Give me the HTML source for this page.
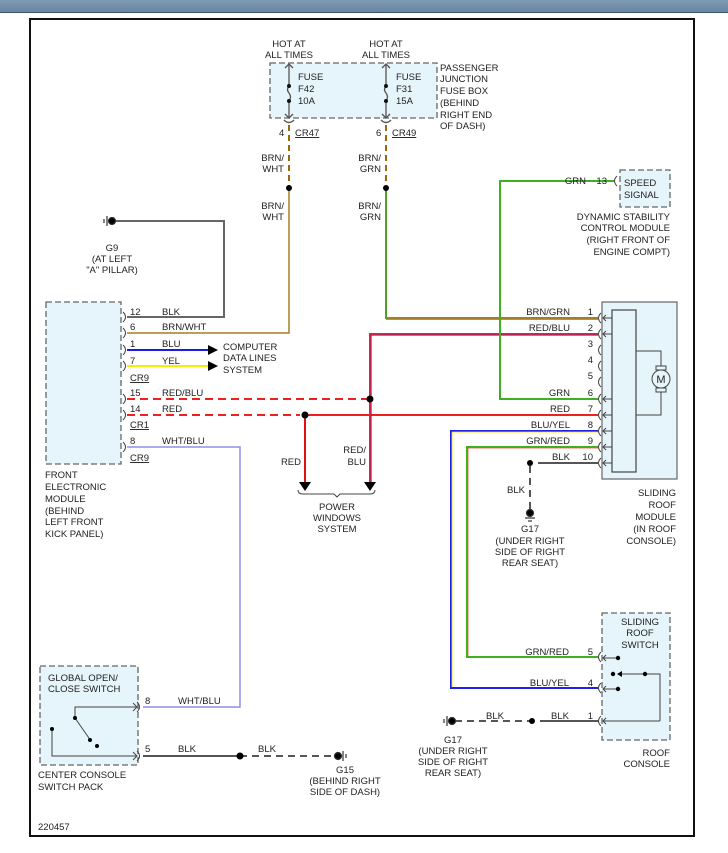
<!DOCTYPE html>
<html><head><meta charset="utf-8"><style>
html,body{margin:0;padding:0;background:#fff;}
svg{display:block;font-family:"Liberation Sans",sans-serif;font-size:9.5px;fill:#222;}
</style></head><body>
<svg width="728" height="853" viewBox="0 0 728 853" xmlns="http://www.w3.org/2000/svg">
<defs><linearGradient id="bar" x1="0" y1="0" x2="0" y2="1"><stop offset="0" stop-color="#7f9bb5"/><stop offset="1" stop-color="#6786a2"/></linearGradient></defs>
<rect x="0" y="0" width="728" height="12" fill="url(#bar)"/>
<line x1="0" y1="12.5" x2="728" y2="12.5" stroke="#3b5470" stroke-width="1"/>
<rect x="30" y="19" width="664" height="817" fill="#fff" stroke="#111" stroke-width="2"/>

<g fill="#e6f4fc" stroke="#666" stroke-width="1.3" stroke-dasharray="6,3">
<rect x="270" y="63" width="167" height="55"/>
<rect x="46" y="302" width="75" height="162"/>
<rect x="620" y="170" width="50" height="37"/>
<rect x="602" y="613" width="68" height="127"/>
<rect x="40" y="666" width="98" height="99"/>
</g>
<rect x="602" y="302" width="75" height="177" fill="#e6f4fc" stroke="#666" stroke-width="1.2"/>
<rect x="612" y="310" width="24" height="162" fill="#e6f4fc" stroke="#444" stroke-width="1.2"/>

<g stroke="#555" stroke-width="1.3" fill="none">
<line x1="289" y1="64" x2="289" y2="86"/><path d="M289,86 q-3,4 0,7 q3,4 0,8"/><line x1="289" y1="101" x2="289" y2="118"/>
<line x1="386" y1="64" x2="386" y2="86"/><path d="M386,86 q-3,4 0,7 q3,4 0,8"/><line x1="386" y1="101" x2="386" y2="118"/>
<path d="M285,68 l4,-4 l4,4 M382,68 l4,-4 l4,4"/>
<path d="M285,114 l4,4 l4,-4 M382,114 l4,4 l4,-4"/>
<path d="M284,120 q5,5 10,0 M381,120 q5,5 10,0"/>
</g>
<g fill="#111"><circle cx="289" cy="86" r="2"/><circle cx="289" cy="101" r="2"/><circle cx="386" cy="86" r="2"/><circle cx="386" cy="101" r="2"/></g>

<g fill="none" stroke-width="2">
<line x1="289" y1="125" x2="289" y2="188" stroke="#9a6a10" stroke-dasharray="6,4"/>
<line x1="386" y1="125" x2="386" y2="188" stroke="#9a6a10" stroke-dasharray="6,4"/>
<path d="M289,188 V333 H127" stroke="#a87d20" stroke-width="1.5"/>
<path d="M386,188 V318 H598" stroke="#a87d20" stroke-width="2"/>
<path d="M386.5,190 V319.5 H598" stroke="#3aa020" stroke-width="0.8"/>
<path d="M115,221 H224 V317 H127" stroke="#666"/>
<line x1="127" y1="350" x2="210" y2="350" stroke="#1a1aee"/>
<line x1="127" y1="366" x2="210" y2="366" stroke="#f0f000"/>
<line x1="127" y1="399" x2="370" y2="399" stroke="#f02020" stroke-dasharray="8,5"/>
<line x1="127" y1="415" x2="300" y2="415" stroke="#f02020" stroke-dasharray="8,5"/>
<path d="M305,415 H598" stroke="#f02020"/>
<path d="M305,415 V482" stroke="#e01010"/>
<path d="M370,488 V334 H598" stroke="#ee2020"/>
<path d="M371.2,486 V335.2 H598" stroke="#3030ee" stroke-width="0.8"/>
<path d="M614,181 H500 V399 H598" stroke="#40b020"/>
<path d="M598,431 H451 V688 H598" stroke="#2020ee"/>
<path d="M598,432 H452 V687" stroke="#e8e000" stroke-width="0.8"/>
<path d="M598,447 H467 V657 H598" stroke="#40b020"/>
<path d="M598,448 H468 V656" stroke="#ee5040" stroke-width="0.8"/>
<line x1="538" y1="463" x2="598" y2="463" stroke="#555"/>
<line x1="530" y1="466" x2="530" y2="510" stroke="#555" stroke-dasharray="7,5"/>
<path d="M127,447 H240 V707 H143" stroke="#9090e0" stroke-width="1.5"/>
<line x1="540" y1="721" x2="598" y2="721" stroke="#555"/>
<line x1="455" y1="721" x2="530" y2="721" stroke="#555" stroke-dasharray="7,5"/>
<line x1="143" y1="756" x2="240" y2="756" stroke="#555"/>
<line x1="240" y1="756" x2="335" y2="756" stroke="#555" stroke-dasharray="7,5"/>
</g>
<g fill="#000">
<circle cx="289" cy="188" r="3"/><circle cx="386" cy="188" r="3"/>
<circle cx="370" cy="399" r="3.5"/><circle cx="305" cy="415" r="3.5"/>
<circle cx="530" cy="463" r="3"/><circle cx="532" cy="721" r="3"/>
<circle cx="240" cy="756" r="3.5"/>
<path d="M208,345 l10,5 l-10,5z M208,361 l10,5 l-10,5z"/>
<path d="M299,482 h12 l-6,9z M364,482 h12 l-6,9z"/>
</g>
<path d="M298,490 q0,4 5,4 h31 l3,3 l3,-3 h30 q5,0 5,-4" fill="none" stroke="#444" stroke-width="1"/>

<g stroke="#333" stroke-width="1.2" fill="#000">
<circle cx="112" cy="221" r="3.5"/><line x1="107" y1="216" x2="107" y2="226"/><line x1="104" y1="219" x2="104" y2="223"/>
<circle cx="530" cy="513" r="3.5"/><line x1="525" y1="518" x2="535" y2="518"/><line x1="528" y1="521" x2="532" y2="521"/>
<circle cx="452" cy="721" r="3.5"/><line x1="447" y1="716" x2="447" y2="726"/><line x1="444" y1="719" x2="444" y2="723"/>
<circle cx="338" cy="756" r="3.5"/><line x1="343" y1="751" x2="343" y2="761"/><line x1="346" y1="754" x2="346" y2="758"/>
</g>

<g fill="none" stroke="#444" stroke-width="1">
<path d="M123,312 q5,5 0,10 M123,328 q5,5 0,10 M123,345 q5,5 0,10 M123,361 q5,5 0,10 M123,394 q5,5 0,10 M123,410 q5,5 0,10 M123,442 q5,5 0,10"/>
<path d="M137,702 q5,5 0,10 M137,751 q5,5 0,10"/>
<path d="M617,176 q-5,5 0,10"/>
<path d="M601,313 q-5,5 0,10 M601,329 q-5,5 0,10 M601,345 q-5,5 0,10 M601,361 q-5,5 0,10 M601,377 q-5,5 0,10 M601,394 q-5,5 0,10 M601,410 q-5,5 0,10 M601,426 q-5,5 0,10 M601,442 q-5,5 0,10 M601,458 q-5,5 0,10"/>
<path d="M601,652 q-5,5 0,10 M601,683 q-5,5 0,10 M601,716 q-5,5 0,10"/>
<path d="M612,318 H603 M606,315 l-3,3 l3,3 M612,334 H603 M606,331 l-3,3 l3,3 M612,399 H603 M606,396 l-3,3 l3,3 M612,415 H603 M606,412 l-3,3 l3,3 M612,431 H603 M606,428 l-3,3 l3,3 M612,447 H603 M606,444 l-3,3 l3,3 M612,463 H603 M606,460 l-3,3 l3,3"/>
<path d="M636,351 H661 V370 M661,388 V415 H636"/>
<circle cx="661" cy="379" r="9" fill="#e6f4fc"/>
<rect x="656" y="366" width="10" height="4" fill="#e6f4fc"/><rect x="656" y="388" width="10" height="4" fill="#e6f4fc"/>
<path d="M618,658 H603 M606,655 l-3,3 l3,3 M618,689 H603 M606,686 l-3,3 l3,3 M660,721 H603 M606,718 l-3,3 l3,3"/>
<path d="M622,674 H660 V721"/>
<path d="M75,718 V707 H137 M133,703 l4,4 l-4,4 M52,729 V756 H137 M133,752 l4,4 l-4,4 M75,718 L91,741"/>
</g>
<text x="652" y="383" font-size="11" text-anchor="middle" fill="#222" dx="9">M</text>
<g fill="#000">
<circle cx="618" cy="658" r="2.2"/><circle cx="618" cy="689" r="2.2"/><circle cx="613" cy="674" r="2.2"/><circle cx="645" cy="674" r="2.2"/>
<path d="M617,674 l5,-3 v6z"/>
<circle cx="75" cy="718" r="2"/><circle cx="90" cy="740" r="2"/><circle cx="97" cy="746" r="2"/><circle cx="52" cy="729" r="2"/>
</g>

<g text-anchor="middle">
<text x="289" y="47">HOT AT</text><text x="289" y="58">ALL TIMES</text>
<text x="386" y="47">HOT AT</text><text x="386" y="58">ALL TIMES</text>
<text x="112" y="251">G9</text><text x="112" y="262">(AT LEFT</text><text x="112" y="273">"A" PILLAR)</text>
<text x="337" y="510">POWER</text><text x="337" y="521">WINDOWS</text><text x="337" y="532">SYSTEM</text>
<text x="530" y="532">G17</text><text x="530" y="544">(UNDER RIGHT</text><text x="530" y="555">SIDE OF RIGHT</text><text x="530" y="566">REAR SEAT)</text>
<text x="453" y="743">G17</text><text x="453" y="754">(UNDER RIGHT</text><text x="453" y="765">SIDE OF RIGHT</text><text x="453" y="776">REAR SEAT)</text>
<text x="345" y="773">G15</text><text x="345" y="784">(BEHIND RIGHT</text><text x="345" y="795">SIDE OF DASH)</text>
<text x="640" y="625">SLIDING</text><text x="640" y="636">ROOF</text><text x="640" y="648">SWITCH</text>
</g>
<g text-anchor="end">
<text x="670" y="220">DYNAMIC STABILITY</text><text x="670" y="231">CONTROL MODULE</text><text x="670" y="243">(RIGHT FRONT OF</text><text x="670" y="255">ENGINE COMPT)</text>
<text x="676" y="496">SLIDING</text><text x="676" y="508">ROOF</text><text x="676" y="520">MODULE</text><text x="676" y="532">(IN ROOF</text><text x="676" y="544">CONSOLE)</text>
<text x="670" y="756">ROOF</text><text x="670" y="767">CONSOLE</text>
<text x="284" y="161">BRN/</text><text x="284" y="172">WHT</text><text x="284" y="209">BRN/</text><text x="284" y="220">WHT</text>
<text x="381" y="161">BRN/</text><text x="381" y="172">GRN</text><text x="381" y="209">BRN/</text><text x="381" y="220">GRN</text>
<text x="301" y="465">RED</text><text x="366" y="453">RED/</text><text x="366" y="465">BLU</text>
<text x="525" y="493">BLK</text>
<text x="570" y="315">BRN/GRN</text><text x="570" y="331">RED/BLU</text><text x="570" y="396">GRN</text><text x="570" y="412">RED</text><text x="570" y="428">BLU/YEL</text><text x="570" y="444">GRN/RED</text><text x="570" y="460">BLK</text>
<text x="593" y="315">1</text><text x="593" y="331">2</text><text x="593" y="347">3</text><text x="593" y="363">4</text><text x="593" y="379">5</text><text x="593" y="396">6</text><text x="593" y="412">7</text><text x="593" y="428">8</text><text x="593" y="444">9</text><text x="593" y="460">10</text>
<text x="586" y="184">GRN</text><text x="607" y="184">13</text>
<text x="569" y="655">GRN/RED</text><text x="569" y="686">BLU/YEL</text><text x="593" y="655">5</text><text x="593" y="686">4</text><text x="593" y="719">1</text>
<text x="569" y="719">BLK</text><text x="504" y="719">BLK</text>
</g>
<g>
<text x="298" y="80">FUSE</text><text x="298" y="92">F42</text><text x="298" y="104">10A</text>
<text x="396" y="80">FUSE</text><text x="396" y="92">F31</text><text x="396" y="104">15A</text>
<text x="440" y="71">PASSENGER</text><text x="440" y="82">JUNCTION</text><text x="440" y="94">FUSE BOX</text><text x="440" y="106">(BEHIND</text><text x="440" y="118">RIGHT END</text><text x="440" y="129">OF DASH)</text>
<text x="279" y="136">4</text><text x="295" y="136" text-decoration="underline">CR47</text>
<text x="376" y="136">6</text><text x="392" y="136" text-decoration="underline">CR49</text>
<text x="624" y="186">SPEED</text><text x="624" y="198">SIGNAL</text>
<text x="130" y="315">12</text><text x="162" y="315">BLK</text>
<text x="130" y="330">6</text><text x="162" y="330">BRN/WHT</text>
<text x="130" y="347">1</text><text x="162" y="347">BLU</text>
<text x="130" y="364">7</text><text x="162" y="364">YEL</text>
<text x="130" y="381" text-decoration="underline">CR9</text>
<text x="223" y="350">COMPUTER</text><text x="223" y="361">DATA LINES</text><text x="223" y="373">SYSTEM</text>
<text x="130" y="396">15</text><text x="162" y="396">RED/BLU</text>
<text x="130" y="412">14</text><text x="162" y="412">RED</text>
<text x="130" y="428" text-decoration="underline">CR1</text>
<text x="130" y="444">8</text><text x="162" y="444">WHT/BLU</text>
<text x="130" y="461" text-decoration="underline">CR9</text>
<text x="45" y="478">FRONT</text><text x="45" y="490">ELECTRONIC</text><text x="45" y="502">MODULE</text><text x="45" y="514">(BEHIND</text><text x="45" y="525">LEFT FRONT</text><text x="45" y="537">KICK PANEL)</text>
<text x="48" y="681">GLOBAL OPEN/</text><text x="48" y="692">CLOSE SWITCH</text>
<text x="145" y="704">8</text><text x="178" y="704">WHT/BLU</text>
<text x="145" y="752">5</text><text x="178" y="752">BLK</text><text x="258" y="752">BLK</text>
<text x="38" y="778">CENTER CONSOLE</text><text x="38" y="790">SWITCH PACK</text>
<text x="38" y="830">220457</text>
</g>
</svg>
</body></html>
